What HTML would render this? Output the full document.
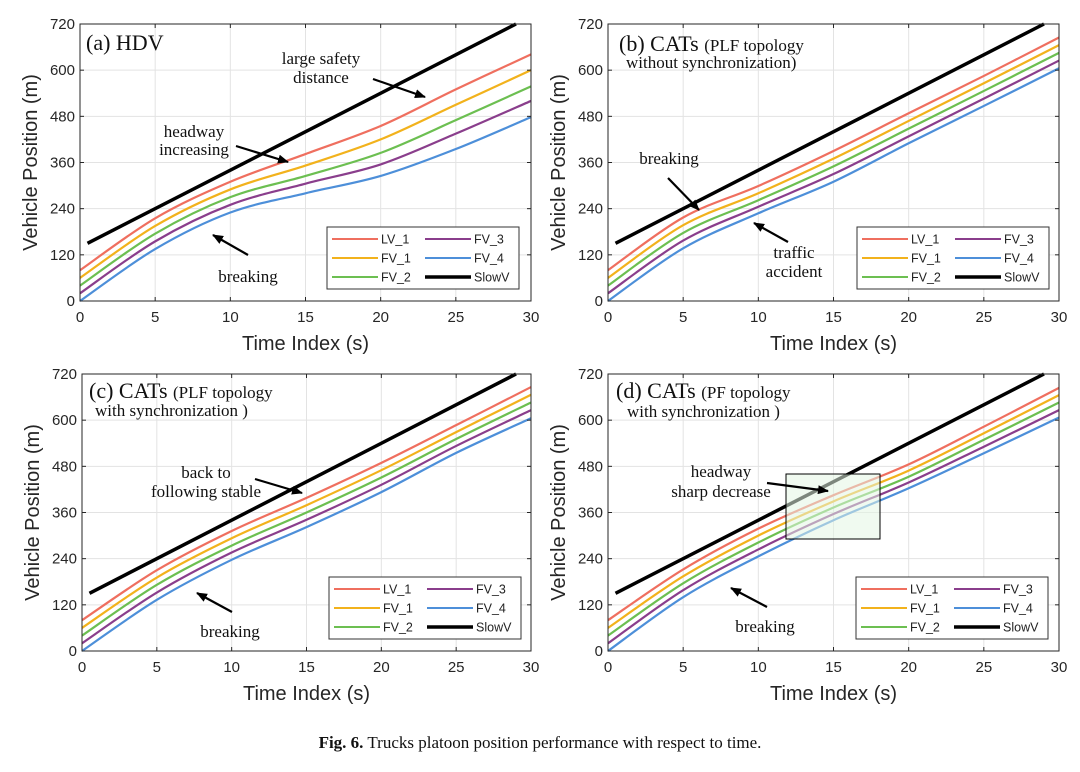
<!DOCTYPE html>
<html><head><meta charset="utf-8">
<style>
html,body{margin:0;padding:0;background:#fff;}
svg{display:block;}
.tick{font-family:"Liberation Sans",sans-serif;font-size:15px;fill:#262626;}
.ttl{font-family:"Liberation Sans",sans-serif;font-size:20px;fill:#262626;}
.ann{font-family:"Liberation Serif",serif;font-size:17px;fill:#111;}
.leg{font-family:"Liberation Sans",sans-serif;font-size:12.5px;fill:#222;}
</style></head>
<body>
<svg id="fig" width="1080" height="772" viewBox="0 0 1080 772" xmlns="http://www.w3.org/2000/svg">
<defs>
<marker id="ah" markerWidth="11" markerHeight="9" refX="10" refY="4.5" orient="auto" markerUnits="userSpaceOnUse">
<path d="M0,0 L11,4.5 L0,9 Z" fill="#000"/></marker>
</defs>
<text x="540" y="748" text-anchor="middle" font-family="Liberation Serif,serif" font-size="17" fill="#111"><tspan font-weight="bold">Fig. 6.</tspan>  Trucks platoon position performance with respect to time.</text>
</svg>
<script>
const times = [0,5,10,15,20,25,30];
const xTicks = [0,5,10,15,20,25,30];
const yTicks = [0,120,240,360,480,600,720];
const seriesNames = ["LV_1","FV_1","FV_2","FV_3","FV_4","SlowV"];
const slowT = [0.5,29];
const slowY = [150,720];
// panel (a) HDV
const aLV1 = [80,215,310,382,455,550,641];
const aFV1 = [60,195,290,352,420,510,600];
const aFV2 = [40,175,270,325,385,470,558];
const aFV3 = [20,155,250,305,355,435,520];
const aFV4 = [0,135,230,280,325,395,478];
// panel (b)
const bLV1 = [80,217,299,390,488,585,685];
const bFV1 = [60,197,280,370,468,566,665];
const bFV2 = [40,177,262,350,448,546,645];
const bFV3 = [20,157,245,330,428,526,625];
const bFV4 = [0,137,228,310,410,507,605];
// panel (c)
const cLV1 = [80,210,312,398,489,587,686];
const cFV1 = [60,191,293,379,470,569,666];
const cFV2 = [40,172,274,360,451,551,646];
const cFV3 = [20,152,256,341,432,533,626];
const cFV4 = [0,133,237,322,413,515,605];
// panel (d)
const dLV1 = [80,212,318,405,485,583,684];
const dFV1 = [60,194,300,389,469,566,665];
const dFV2 = [40,176,282,373,453,549,646];
const dFV3 = [20,158,264,356,438,531,626];
const dFV4 = [0,140,246,340,423,514,607];

const colors = ["#ef6f5f","#f2b21c","#6cbf51","#8a3e8c","#4d8fd9","#000"];
const NS="http://www.w3.org/2000/svg";
const svg=document.getElementById('fig');
function mk(tag,attrs,parent){const e=document.createElementNS(NS,tag);for(const k in attrs)e.setAttribute(k,attrs[k]);(parent||svg).appendChild(e);return e;}

function panel(id,box,data,legBox){
  const g=mk('g',{});
  
  
  const sx=t=>box.x0+(t-0)/30*(box.x1-box.x0);
  const sy=v=>box.y1-(v/720)*(box.y1-box.y0);
  xTicks.forEach(t=>{const l=mk('line',{x1:sx(t),x2:sx(t),y1:box.y0,y2:box.y1,stroke:'#e3e3e3','stroke-width':1},g);
    });
  yTicks.forEach(v=>{const l=mk('line',{x1:box.x0,x2:box.x1,y1:sy(v),y2:sy(v),stroke:'#e3e3e3','stroke-width':1},g);
    });
  data.forEach((arr,i)=>{
    const pts=times.map((t,k)=>[sx(t),sy(arr[k])]);
    let d='M'+pts[0][0]+','+pts[0][1];
    for(let k=0;k<pts.length-1;k++){
      const p0=pts[Math.max(0,k-1)],p1=pts[k],p2=pts[k+1],p3=pts[Math.min(pts.length-1,k+2)];
      const c1=[p1[0]+(p2[0]-p0[0])/6,p1[1]+(p2[1]-p0[1])/6];
      const c2=[p2[0]-(p3[0]-p1[0])/6,p2[1]-(p3[1]-p1[1])/6];
      d+=' C'+c1[0]+','+c1[1]+' '+c2[0]+','+c2[1]+' '+p2[0]+','+p2[1];
    }
    const p=mk('path',{d:d,fill:'none',stroke:colors[i],'stroke-width':2.2},g);
    
    
  });
  const s=mk('line',{x1:sx(slowT[0]),y1:sy(slowY[0]),x2:sx(slowT[1]),y2:sy(slowY[1]),stroke:'#000','stroke-width':3.5},g);
  
  
  const r=mk('rect',{x:box.x0,y:box.y0,width:box.x1-box.x0,height:box.y1-box.y0,fill:'none',stroke:'#262626','stroke-width':1},g);
  
  
  xTicks.forEach(t=>{
    mk('line',{x1:sx(t),x2:sx(t),y1:box.y1,y2:box.y1-4,stroke:'#262626'},g);
    mk('line',{x1:sx(t),x2:sx(t),y1:box.y0,y2:box.y0+4,stroke:'#262626'},g);
    const tx=mk('text',{x:sx(t),y:box.y1+21,'text-anchor':'middle',class:'tick'},g);tx.textContent=t;
    
  });
  yTicks.forEach(v=>{
    mk('line',{x1:box.x0,x2:box.x0+4,y1:sy(v),y2:sy(v),stroke:'#262626'},g);
    mk('line',{x1:box.x1,x2:box.x1-4,y1:sy(v),y2:sy(v),stroke:'#262626'},g);
    const tx=mk('text',{x:box.x0-5,y:sy(v)+5,'text-anchor':'end',class:'tick'},g);tx.textContent=v;
    
  });
  const xt=mk('text',{x:(box.x0+box.x1)/2,y:box.y1+49,'text-anchor':'middle',class:'ttl'},g);xt.textContent='Time Index (s)';
  
  const yc=(box.y0+box.y1)/2;
  const yt=mk('text',{x:box.x0-43,y:yc,'text-anchor':'middle',class:'ttl',transform:'rotate(-90 '+(box.x0-43)+' '+yc+')'},g);yt.textContent='Vehicle Position (m)';
  
  const lg=mk('g',{},g);
  
  
  mk('rect',{x:legBox.x,y:legBox.y,width:192,height:62,fill:'#fff',stroke:'#333','stroke-width':1},lg);
  const order=[[0,0,0],[1,0,1],[2,0,2],[3,1,0],[4,1,1],[5,1,2]];
  order.forEach(([i,c,rw])=>{
    const lx=legBox.x+5+c*93, ly=legBox.y+12+rw*19;
    mk('line',{x1:lx,x2:lx+46,y1:ly,y2:ly,stroke:colors[i],'stroke-width':i==5?3.5:2},lg);
    const t=mk('text',{x:lx+49,y:ly+4.5,class:'leg'},lg);t.textContent=seriesNames[i];
    
  });
  return g;
}
function txt(x,y,s,anchor,name){const t=mk('text',{x:x,y:y,'text-anchor':anchor||'middle',class:'ann'});t.textContent=s;
  return t;}
function arrow(x1,y1,x2,y2,name){const l=mk('line',{x1:x1,y1:y1,x2:x2,y2:y2,stroke:'#000','stroke-width':2.2,'marker-end':'url(#ah)'});
  }
function title(x,y,big,small,line2,x2,y2,name){
  const t=mk('text',{x:x,y:y,class:'ann',style:'font-size:22px'});
  t.innerHTML=big+' <tspan style="font-size:17px">'+small+'</tspan>';
  
  const t2=mk('text',{x:x2,y:y2,class:'ann'});t2.textContent=line2;
  
}

panel('a',{x0:80,x1:531,y0:24,y1:301},[aLV1,aFV1,aFV2,aFV3,aFV4],{x:327,y:227});
panel('b',{x0:608,x1:1059,y0:24,y1:301},[bLV1,bFV1,bFV2,bFV3,bFV4],{x:857,y:227});
panel('c',{x0:82,x1:531,y0:374,y1:651},[cLV1,cFV1,cFV2,cFV3,cFV4],{x:329,y:577});
panel('d',{x0:608,x1:1059,y0:374,y1:651},[dLV1,dFV1,dFV2,dFV3,dFV4],{x:856,y:577});

const ta=mk('text',{x:86,y:50,class:'ann',style:'font-size:22px'});ta.textContent='(a) HDV';

txt(321,64,'large safety','middle','annotation-large-safety');
txt(321,83,'distance','middle','annotation-distance');
arrow(373,79,425,97,'arrow-safety');
txt(194,137,'headway','middle','annotation-headway');
txt(194,155,'increasing','middle','annotation-increasing');
arrow(236,146,288,162,'arrow-headway');
txt(248,282,'breaking','middle','annotation-breaking-a');
arrow(248,255,213,235,'arrow-breaking-a');

title(619,51,'(b) CATs','(PLF topology','without synchronization)',626,68,'panel-b-title');
txt(669,164,'breaking','middle','annotation-breaking-b');
arrow(668,178,699,210,'arrow-breaking-b');
txt(794,258,'traffic','middle','annotation-traffic');
txt(794,277,'accident','middle','annotation-accident');
arrow(788,242,754,223,'arrow-accident');

title(89,398,'(c) CATs','(PLF topology','with synchronization )',95,416,'panel-c-title');
txt(206,478,'back to','middle','annotation-back-to');
txt(206,497,'following stable','middle','annotation-following-stable');
arrow(255,479,302,493,'arrow-stable');
txt(230,637,'breaking','middle','annotation-breaking-c');
arrow(232,612,197,593,'arrow-breaking-c');

const rc=mk('rect',{x:786,y:474,width:94,height:65,fill:'#e3f5e3','fill-opacity':0.55,stroke:'#000','stroke-width':1});


title(616,398,'(d) CATs','(PF topology','with synchronization )',627,417,'panel-d-title');
txt(721,477,'headway','middle','annotation-headway-d');
txt(721,497,'sharp decrease','middle','annotation-sharp-decrease');
arrow(767,483,828,491,'arrow-sharp-decrease');
txt(765,632,'breaking','middle','annotation-breaking-d');
arrow(767,607,731,588,'arrow-breaking-d');
</script>
</body></html>
